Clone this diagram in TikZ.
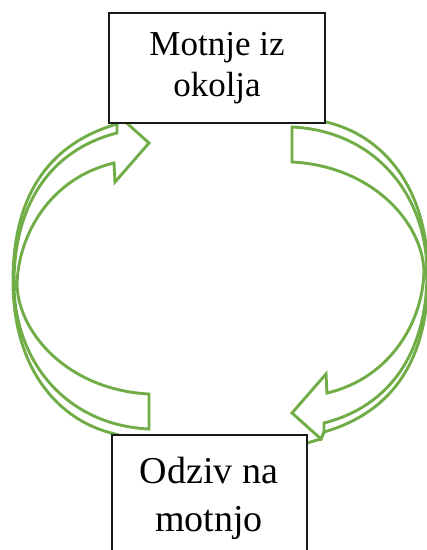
\documentclass[tikz,border=0pt]{standalone}
\usepackage{fontspec}
\setmainfont{Liberation Serif}
\definecolor{officegreen}{HTML}{70AD47}
\newcommand\loopshape{%
  % outline of the curved block arrow (shaft, tail and head)
  \draw[arrowline] (117,124) -- (120,117) -- (149,143) -- (115,182) -- (114,163)
     .. controls (50,178) and (18,235) .. (17,285)
     .. controls (19,335) and (70,390) .. (149,394)
     -- (149,429)
     .. controls (65,425) and (14,360) .. (14,283)
     .. controls (14,205) and (50,150) .. (117,133)
     -- cycle;
  % back edge of the curved band
  \draw[arrowline] (135,440) -- (115,434)
     .. controls (55,420) and (13,365) .. (13,281)
     .. controls (13,200) and (45,145) .. (117,124)
     -- (120,117) -- (141,111);
}
\begin{document}
\begin{tikzpicture}[x=1pt,y=-1pt,
  arrowline/.style={draw=officegreen, line width=2.9pt, line join=miter},
  box/.style={draw=black!90, line width=1.6pt, fill=white, inner sep=0pt},
  label/.style={anchor=base, inner sep=0pt}]
\path[use as bounding box] (0,0) rectangle (427,550);
\clip (0,0) rectangle (427,550);
\loopshape
\begin{scope}[rotate around={180:(220.5,278)}]
\loopshape
\end{scope}
\node[box, minimum width=216pt, minimum height=110pt] (env) at (217,68) {};
\node[box, minimum width=195pt, minimum height=165pt] (resp) at (209.5,517.5) {};
\node[label, font=\fontsize{35}{42}\selectfont] (envA) at (217,55) {Motnje iz};
\node[label, font=\fontsize{35}{42}\selectfont] (envB) at (217,96) {okolja};
\node[label, font=\fontsize{38}{46}\selectfont] (respA) at (209,483) {Odziv na};
\node[label, font=\fontsize{38}{46}\selectfont] (respB) at (209,531.5) {motnjo};
\end{tikzpicture}
\end{document}
